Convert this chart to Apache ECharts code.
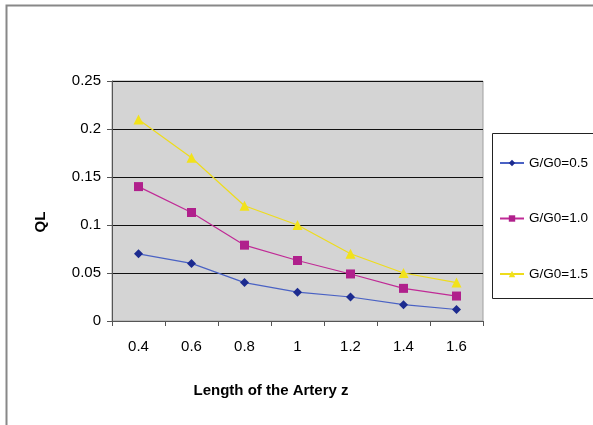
<!DOCTYPE html>
<html><head><meta charset="utf-8">
<script src="https://cdn.jsdelivr.net/npm/echarts@6/dist/echarts.min.js"></script>
<style>html,body{margin:0;padding:0;background:#fff}#c{width:593px;height:425px}</style>
</head><body><div id="c"></div>
<script>
var categories = ['0.4','0.6','0.8','1','1.2','1.4','1.6'];
var seriesNames = ['G/G0=0.5','G/G0=1.0','G/G0=1.5'];
var s05 = [0.070, 0.060, 0.040, 0.030, 0.025, 0.017, 0.012];
var s10 = [0.140, 0.113, 0.079, 0.063, 0.049, 0.034, 0.026];
var s15 = [0.210, 0.170, 0.120, 0.100, 0.070, 0.050, 0.040];
var yTicks = [0, 0.05, 0.1, 0.15, 0.2, 0.25];
var xTitle = 'Length of the Artery z';
var yTitle = 'QL';

var chart = echarts.init(document.getElementById('c'));
var font = 'Liberation Sans, Arial, sans-serif';
chart.setOption({
  animation: false,
  graphic: [
    {type:'rect', shape:{x:6.5,y:5.5,width:600,height:430}, style:{fill:'none',stroke:'#888',lineWidth:2}, z:0},
    {type:'rect', shape:{x:492.5,y:133.5,width:120,height:165}, style:{fill:'#fff',stroke:'#222',lineWidth:1}, z:1},
    {type:'text', x:271, y:391, style:{text:xTitle, font:'bold 15px Liberation Sans, Arial, sans-serif', fill:'#000', textAlign:'center', textVerticalAlign:'middle'}, z:5},
    {type:'text', x:41, y:222, rotation:Math.PI/2, style:{text:yTitle, font:'bold 15px Liberation Sans, Arial, sans-serif', fill:'#000', textAlign:'center', textVerticalAlign:'middle'}, z:5}
  ],
  grid: {left:112, top:81, width:371, height:240, backgroundColor:'#d4d4d4', show:true, borderColor:'#a0a0a0', borderWidth:1},
  legend: {
    orient:'vertical', left:494, top:151, itemGap:41.5, itemWidth:24, itemHeight:8,
    textStyle:{fontFamily:font, fontSize:13.5, color:'#000'},
    data: seriesNames, z:6
  },
  xAxis: {
    type:'category', data:categories, boundaryGap:true,
    axisLine:{lineStyle:{color:'#555'}},
    axisTick:{show:true, inside:false, length:5, lineStyle:{color:'#555'}},
    axisLabel:{fontFamily:font, fontSize:15, color:'#000', margin:18}
  },
  yAxis: {
    type:'value', min:0, max:0.25, interval:0.05,
    axisLine:{show:true, lineStyle:{color:'#555'}},
    axisTick:{show:true, length:5, lineStyle:{color:'#555'}},
    axisLabel:{fontFamily:font, fontSize:15, color:'#000', margin:11,
      formatter:function(v){ for (var i=0;i<yTicks.length;i++){ if(Math.abs(yTicks[i]-v)<1e-9) return String(yTicks[i]); } return ''; }},
    splitLine:{show:true, lineStyle:{color:'#111', width:1}}
  },
  series: [
    {name:seriesNames[0], type:'line', data:s05, symbol:'diamond', symbolSize:9,
     itemStyle:{color:'#1c2b8f'}, lineStyle:{color:'#4a62c4', width:1.2}},
    {name:seriesNames[1], type:'line', data:s10, symbol:'rect', symbolSize:9,
     itemStyle:{color:'#b0208c'}, lineStyle:{color:'#c02a96', width:1.2}},
    {name:seriesNames[2], type:'line', data:s15, symbol:'triangle', symbolSize:10,
     itemStyle:{color:'#f2e21a'}, lineStyle:{color:'#eedc1c', width:1.2}}
  ]
});
</script></body></html>
